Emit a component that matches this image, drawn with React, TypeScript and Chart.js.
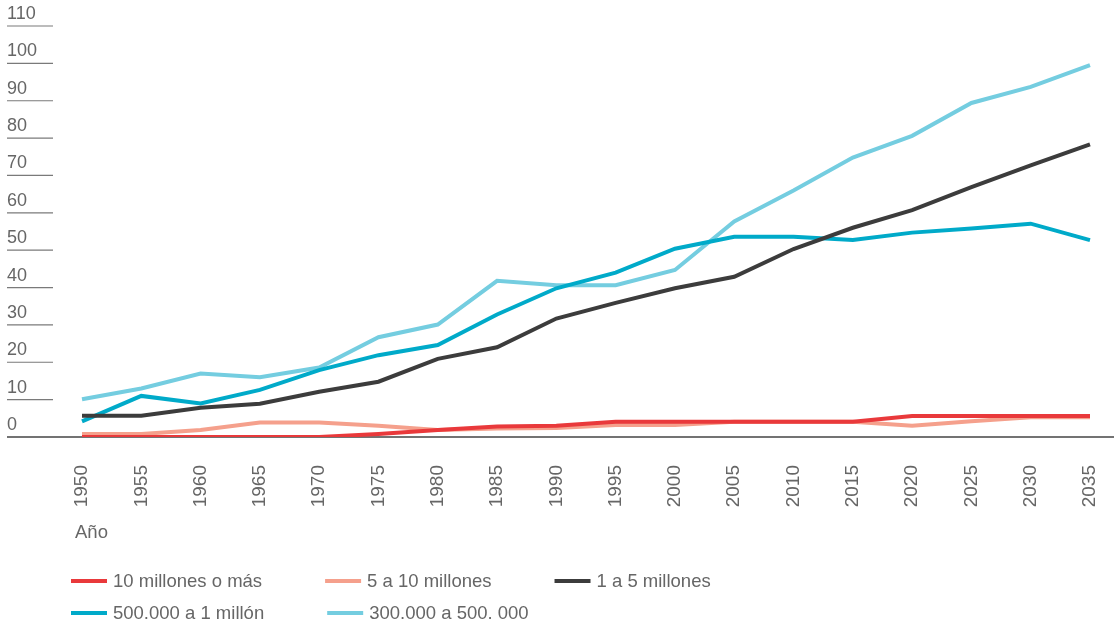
import React, { useEffect, useRef } from "react";
import { Chart, registerables } from "chart.js";

Chart.register(...registerables);

const years = ["1950", "1955", "1960", "1965", "1970", "1975", "1980", "1985", "1990", "1995", "2000", "2005", "2010", "2015", "2020", "2025", "2030", "2035"];

const seriesNames = ["10 millones o más", "5 a 10 millones", "1 a 5 millones", "500.000 a 1 millón", "300.000 a 500. 000"];

const tenPlus = [0, 0, 0, 0, 0, 0.8, 1.9, 2.8, 3.0, 4.1, 4.1, 4.1, 4.1, 4.1, 5.6, 5.6, 5.6, 5.6];
const fiveToTen = [0.8, 0.8, 1.9, 3.9, 3.9, 3.0, 1.9, 2.3, 2.4, 3.2, 3.2, 4.1, 4.1, 4.1, 3.0, 4.2, 5.3, 5.3];
const oneToFive = [5.7, 5.7, 7.8, 8.9, 12.1, 14.8, 20.9, 24.0, 31.7, 35.9, 39.8, 42.9, 50.3, 56.0, 60.7, 66.9, 72.7, 78.3];
const halfToOne = [4.2, 11.0, 9.0, 12.6, 17.9, 21.9, 24.6, 32.8, 39.8, 44.0, 50.4, 53.6, 53.6, 52.7, 54.7, 55.8, 57.1, 52.7];
const threeToHalf = [10.1, 13.0, 17.0, 16.0, 18.6, 26.7, 30.1, 41.8, 40.6, 40.6, 44.7, 57.7, 66.0, 74.8, 80.6, 89.4, 93.7, 99.5];

const yTicks = [0, 10, 20, 30, 40, 50, 60, 70, 80, 90, 100, 110];
const axisTitle = "Año";

const colors = ["#e9393b", "#f5a08c", "#3c3c3c", "#00aac9", "#74cde0"];
const FONT = "'Liberation Sans', Arial, sans-serif";
const TEXT = "#666666";

const decorPlugin = {
  id: "decor",
  beforeDatasetsDraw(chart: any) {
    const ctx = chart.ctx;
    const y = chart.scales.y;
    ctx.save();
    const base = y.getPixelForValue(0);
    ctx.strokeStyle = "#444444";
    ctx.lineWidth = 1.5;
    ctx.beginPath();
    ctx.moveTo(7, base);
    ctx.lineTo(chart.width, base);
    ctx.stroke();
    ctx.font = `18px ${FONT}`;
    ctx.fillStyle = TEXT;
    ctx.textAlign = "left";
    ctx.textBaseline = "alphabetic";
    yTicks.forEach((v) => {
      const py = y.getPixelForValue(v);
      if (v !== 0) {
        ctx.strokeStyle = "#7a7a7a";
        ctx.lineWidth = 1.2;
        ctx.beginPath();
        ctx.moveTo(7, py);
        ctx.lineTo(53, py);
        ctx.stroke();
      }
      ctx.fillText(String(v), 7, py - 7);
    });
    ctx.restore();
  },
  afterDraw(chart: any) {
    const ctx = chart.ctx;
    const x = chart.scales.x;
    ctx.save();
    ctx.font = `18.5px ${FONT}`;
    ctx.fillStyle = TEXT;
    ctx.textAlign = "left";
    ctx.textBaseline = "alphabetic";
    ctx.fillText(axisTitle, x.getPixelForValue(0) - 7, 538);
    ctx.font = `18.5px ${FONT}`;
    ctx.textBaseline = "middle";
    const startX = 71;
    let lx = startX;
    let ly = 581;
    chart.data.datasets.forEach((ds: any, i: number) => {
      if (i > 0 && i % 3 === 0) {
        lx = startX;
        ly += 32;
      }
      ctx.strokeStyle = ds.borderColor;
      ctx.lineWidth = 4;
      ctx.beginPath();
      ctx.moveTo(lx, ly);
      ctx.lineTo(lx + 36, ly);
      ctx.stroke();
      ctx.fillStyle = TEXT;
      ctx.fillText(ds.label, lx + 42, ly + 1);
      lx += 42 + ctx.measureText(ds.label).width + 63;
    });
    ctx.restore();
  },
};

export default function App() {
  const ref = useRef<HTMLCanvasElement | null>(null);
  useEffect(() => {
    const values = [tenPlus, fiveToTen, oneToFive, halfToOne, threeToHalf];
    const chart = new Chart(ref.current as HTMLCanvasElement, {
      type: "line",
      data: {
        labels: years,
        datasets: values.map((d, i) => ({
          label: seriesNames[i],
          data: d,
          borderColor: colors[i],
          backgroundColor: colors[i],
          borderWidth: 4,
          pointRadius: 0,
          tension: 0,
          fill: false,
        })),
      },
      options: {
        animation: false,
        responsive: true,
        maintainAspectRatio: false,
        layout: { padding: { left: 82, right: 24, top: 26, bottom: 0 } },
        plugins: { legend: { display: false }, tooltip: { enabled: false } },
        scales: {
          x: {
            type: "category",
            offset: false,
            grid: { display: false },
            border: { display: false },
            afterFit: (scale: any) => {
              scale.height = 187;
              scale.paddingLeft = 0;
              scale.paddingRight = 0;
            },
            ticks: {
              minRotation: 90,
              maxRotation: 90,
              padding: 20,
              color: TEXT,
              autoSkip: false,
              font: { family: FONT, size: 19 },
            },
          },
          y: {
            display: false,
            min: 0,
            max: 110,
          },
        },
      },
      plugins: [decorPlugin],
    });
    return () => chart.destroy();
  }, []);
  return (
    <div style={{ position: "absolute", left: 0, top: 0, width: 1114, height: 624, background: "#ffffff" }}>
      <canvas ref={ref} />
    </div>
  );
}
